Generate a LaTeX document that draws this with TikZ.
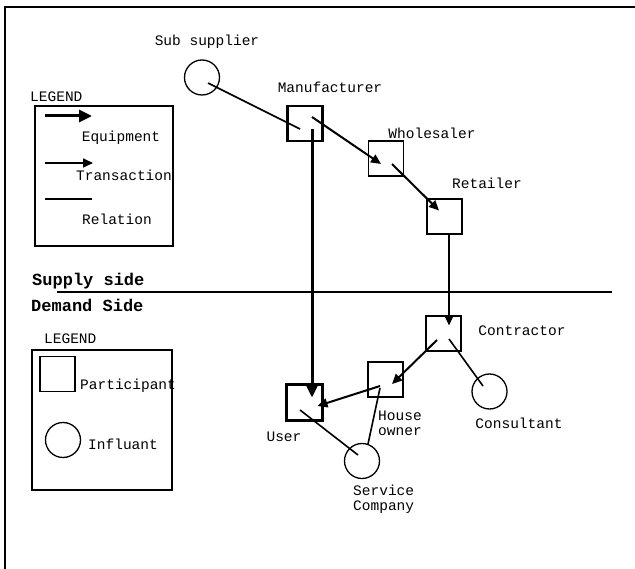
\documentclass[tikz,border=0pt]{standalone}
\usepackage{fontspec}
\setmainfont{Liberation Mono}
\usetikzlibrary{arrows.meta,calc}
\begin{document}
\begin{tikzpicture}[x=1pt,y=-1pt,
  lbl/.style={font=\fontsize{14.5}{15}\selectfont, inner sep=0pt},
  side/.style={font=\fontsize{17}{18}\selectfont\bfseries, inner sep=0pt, anchor=west},
  part/.style={draw, minimum size=35pt, inner sep=0pt, line width=1.5pt},
  partthick/.style={part, line width=2.8pt},
  infl/.style={draw, circle, minimum size=35pt, inner sep=0pt, line width=1.3pt},
  equip/.style={line width=3pt, -{Triangle[length=13pt,width=12pt]}},
  trans/.style={line width=2pt, -{Triangle[length=10pt,width=9pt]}},
  transthin/.style={line width=1.3pt, -{Triangle[length=10pt,width=9pt]}},
  rel/.style={line width=1.6pt},
  lgbox/.style={draw, line width=1.5pt}
]
\useasboundingbox (0,0) rectangle (635,569);
\draw[line width=1.5pt] (5,569) -- (5,7) -- (635,7);

% supply / demand
\coordinate (sdl) at (57,292);
\coordinate (sdr) at (612,292);
\draw[line width=1.4pt] (sdl) -- (sdr);
\node[side] (supply) at (32,281) {Supply side};
\node[side] (demand) at (31,305) {Demand Side};

% legend top
\node[lbl, anchor=west] (lg1) at (30,97) {LEGEND};
\node[lgbox, minimum width=138pt, minimum height=140pt, inner sep=0pt] (lgb1) at (104,176) {};
\coordinate (la1) at (45,116); \coordinate (lb1) at (92,116);
\draw[equip] (la1) -- (lb1);
\node[lbl] (leq) at (121,138) {Equipment};
\coordinate (la2) at (45,163); \coordinate (lb2) at (93,163);
\draw[transthin, line width=1.6pt] (la2) -- (lb2);
\node[lbl] (ltr) at (124,175) {Transaction};
\coordinate (la3) at (45,199); \coordinate (lb3) at (92,199);
\draw[line width=1.2pt] (la3) -- (lb3);
\node[lbl] (lrel) at (117,219) {Relation};

% legend bottom
\node[lbl, anchor=west] (lg2) at (44,339) {LEGEND};
\node[lgbox, minimum width=140pt, minimum height=140pt, inner sep=0pt] (lgb2) at (102,420) {};
\node[part] (lsq) at (57.5,374) {};
\node[lbl, anchor=west] (lpart) at (80,386) {Participant};
\node[infl] (lcirc) at (63,440) {};
\node[lbl, anchor=west] (linfl) at (88,444) {Influant};

% participants and influants
\node[infl] (sub) at (202,77.5) {};
\node[lbl] (subl) at (207,42) {Sub supplier};
\node[partthick] (man) at (305,123.5) {};
\node[lbl] (manl) at (330,87) {Manufacturer};
\node[part] (whole) at (386,158.5) {};
\node[lbl] (wholel) at (432,133) {Wholesaler};
\node[part, line width=2pt] (ret) at (444,216.5) {};
\node[lbl] (retl) at (487,183) {Retailer};
\node[part, line width=1.3pt] (con) at (443.5,333.5) {};
\node[lbl] (conl) at (522,331) {Contractor};
\node[infl] (cons) at (489.5,391.5) {};
\node[lbl] (consl) at (519,423) {Consultant};
\node[part, line width=1.8pt] (house) at (385.5,379.5) {};
\node[lbl, anchor=west, align=left] (housel) at (378,423) {House\\owner};
\node[partthick, minimum size=36pt] (user) at (304.5,402.5) {};
\node[lbl] (userl) at (284,437) {User};
\node[infl] (serv) at (362,461) {};
\node[lbl, anchor=west, align=left] (servl) at (353,499) {Service\\Company};

% connectors
\draw[rel] ($(sub.center)+(6,5.5)$) -- ($(man.center)+(-5,5.5)$);
\draw[trans] ($(man.center)+(7,-6.5)$) -- ($(whole.center)+(-5,5.5)$);
\draw[trans] ($(whole.center)+(6,5.5)$) -- ($(ret.center)+(-5,-6)$);
\draw[transthin] ($(ret.center)+(5,17.5)$) -- ($(con.center)+(5.5,-8)$);
\draw[equip] ($(man.center)+(7,6)$) -- ($(user.center)+(7.5,-5)$);
\draw[trans] ($(con.center)+(-6.5,6.5)$) -- ($(house.center)+(6.5,4.5)$);
\draw[trans] ($(house.center)+(-5.5,6.5)$) -- ($(user.center)+(13,3.5)$);
\draw[rel] ($(con.center)+(5.5,5.5)$) -- ($(cons.center)+(-6.5,-5.5)$);
\draw[rel] ($(user.center)+(-4.5,7.5)$) -- ($(serv.center)+(-4,-6)$);
\draw[rel] ($(house.center)+(-5.5,8.5)$) -- ($(serv.center)+(6,-17)$);
\end{tikzpicture}
\end{document}
